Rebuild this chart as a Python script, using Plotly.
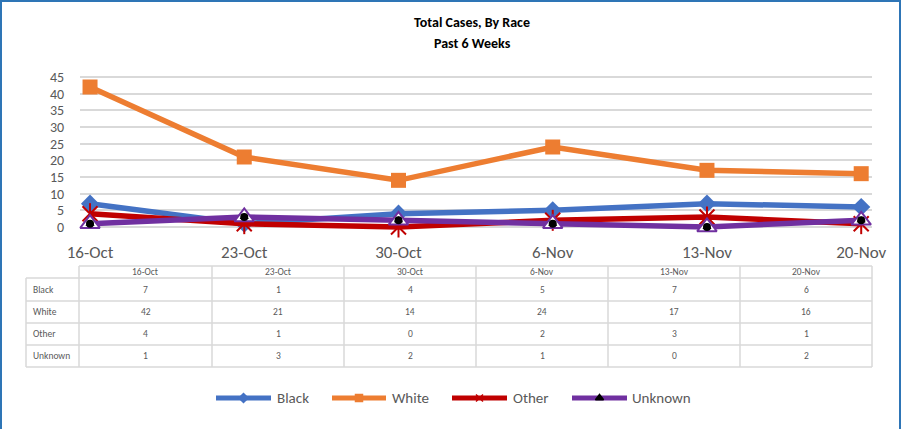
import plotly.graph_objects as go

# ---- data ----
weeks = ["16-Oct", "23-Oct", "30-Oct", "6-Nov", "13-Nov", "20-Nov"]
black = [7, 1, 4, 5, 7, 6]
white = [42, 21, 14, 24, 17, 16]
other = [4, 1, 0, 2, 3, 1]
unknown = [1, 3, 2, 1, 0, 2]
series_names = ["Black", "White", "Other", "Unknown"]
y_ticks = [0, 5, 10, 15, 20, 25, 30, 35, 40, 45]

W, H = 902, 429
FONT = "Carlito, Lato, sans-serif"
GRAY = "#595959"
GRID = "#d9d9d9"
colors = {"Black": "#4472C4", "White": "#ED7D31", "Other": "#C00000", "Unknown": "#7030A0"}
values = {"Black": black, "White": white, "Other": other, "Unknown": unknown}
LW = 5.5


def px(x):
    return x / W


def py(y):
    return 1 - y / H


fig = go.Figure()

# main series
fig.add_trace(go.Scatter(x=weeks, y=black, mode="lines+markers", name="Black",
                         line=dict(color=colors["Black"], width=LW),
                         marker=dict(symbol="diamond", size=14, color=colors["Black"]),
                         cliponaxis=False))
fig.add_trace(go.Scatter(x=weeks, y=white, mode="lines+markers", name="White",
                         line=dict(color=colors["White"], width=LW),
                         marker=dict(symbol="square", size=15, color=colors["White"]),
                         cliponaxis=False))
fig.add_trace(go.Scatter(x=weeks, y=other, mode="lines+markers", name="Other",
                         line=dict(color=colors["Other"], width=LW),
                         marker=dict(symbol="x-thin", size=15, color=colors["Other"],
                                     line=dict(color=colors["Other"], width=2)),
                         cliponaxis=False))
fig.add_trace(go.Scatter(x=weeks, y=other, mode="markers", showlegend=False,
                         marker=dict(symbol="line-ns", size=15, color=colors["Other"],
                                     line=dict(color=colors["Other"], width=2)),
                         cliponaxis=False, hoverinfo="skip"))
fig.add_trace(go.Scatter(x=weeks, y=unknown, mode="lines+markers", name="Unknown",
                         line=dict(color=colors["Unknown"], width=LW),
                         marker=dict(symbol="triangle-up", size=17, color="white",
                                     line=dict(color=colors["Unknown"], width=2)),
                         cliponaxis=False))
# black drop inside the Unknown markers
fig.add_trace(go.Scatter(x=weeks, y=unknown, mode="markers", showlegend=False,
                         marker=dict(symbol="circle", size=8, color="black"),
                         cliponaxis=False, hoverinfo="skip"))
fig.add_trace(go.Scatter(x=weeks, y=unknown, mode="markers", showlegend=False,
                         marker=dict(symbol="triangle-up", size=8, color="black",
                                     line=dict(width=0)),
                         cliponaxis=False, hoverinfo="skip"))

# ---- custom legend on a full-figure pixel axis ----
leg_items = [("Black", 216, 271, 275), ("White", 332, 386, 390),
             ("Other", 452, 507, 511), ("Unknown", 572, 627, 630)]
leg_sym = {"Black": "diamond", "White": "square", "Other": "x-thin", "Unknown": "triangle-up"}
LEG_Y = 398
annotations = []
for name, x0, x1, xt in leg_items:
    fig.add_trace(go.Scatter(x=[x0, x1], y=[LEG_Y, LEG_Y], xaxis="x2", yaxis="y2",
                             mode="lines", line=dict(color=colors[name], width=5),
                             showlegend=False, hoverinfo="skip", cliponaxis=False))
    mcol = "black" if name == "Unknown" else colors[name]
    fig.add_trace(go.Scatter(x=[(x0 + x1) / 2], y=[LEG_Y], xaxis="x2", yaxis="y2",
                             mode="markers",
                             marker=dict(symbol=leg_sym[name], size=7, color=mcol,
                                         line=dict(color=mcol, width=1.5)),
                             showlegend=False, hoverinfo="skip", cliponaxis=False))
    annotations.append(dict(x=px(xt), y=py(LEG_Y), xref="paper", yref="paper",
                            text=name, showarrow=False, xanchor="left", yanchor="middle",
                            font=dict(family=FONT, size=15, color=GRAY)))

# ---- data table ----
col_edges = [79, 212, 344, 476, 608, 740, 872]
row_edges = [266, 278, 301, 323, 345, 367]
label_left = 26
shapes = []
TL = dict(color=GRID, width=1.5)
shapes.append(dict(type="line", xref="paper", yref="paper",
                   x0=px(col_edges[0]), x1=px(col_edges[-1]),
                   y0=py(row_edges[0]), y1=py(row_edges[0]), line=TL))
for r in row_edges[1:]:
    shapes.append(dict(type="line", xref="paper", yref="paper",
                       x0=px(label_left), x1=px(col_edges[-1]),
                       y0=py(r), y1=py(r), line=TL))
shapes.append(dict(type="line", xref="paper", yref="paper",
                   x0=px(label_left), x1=px(label_left),
                   y0=py(row_edges[1]), y1=py(row_edges[-1]), line=TL))
for c in col_edges:
    shapes.append(dict(type="line", xref="paper", yref="paper",
                       x0=px(c), x1=px(c),
                       y0=py(row_edges[0]), y1=py(row_edges[-1]), line=TL))

TFONT = dict(family=FONT, size=9.5, color=GRAY)
for j, wk in enumerate(weeks):
    cx = (col_edges[j] + col_edges[j + 1]) / 2
    annotations.append(dict(x=px(cx), y=py((row_edges[0] + row_edges[1]) / 2),
                            xref="paper", yref="paper", text=wk, showarrow=False,
                            font=TFONT, xanchor="center", yanchor="middle"))
for i, name in enumerate(series_names):
    cy = (row_edges[i + 1] + row_edges[i + 2]) / 2
    annotations.append(dict(x=px(label_left + 5), y=py(cy), xref="paper", yref="paper",
                            text=name, showarrow=False, font=TFONT,
                            xanchor="left", yanchor="middle"))
    for j, v in enumerate(values[name]):
        cx = (col_edges[j] + col_edges[j + 1]) / 2
        annotations.append(dict(x=px(cx), y=py(cy), xref="paper", yref="paper",
                                text=str(v), showarrow=False, font=TFONT,
                                xanchor="center", yanchor="middle"))

# title (two lines)
for txt, ty in (("Total Cases, By Race", 22), ("Past 6 Weeks", 44)):
    annotations.append(dict(x=px(472), y=py(ty), xref="paper", yref="paper",
                            text="<b>" + txt + "</b>", showarrow=False,
                            xanchor="center", yanchor="middle",
                            font=dict(family=FONT, size=14, color="black")))

# outer blue frame (left, top, right)
BL = dict(color="#2E75B6", width=2)
shapes += [
    dict(type="line", xref="paper", yref="paper", x0=px(1), x1=px(1), y0=0, y1=1, line=BL),
    dict(type="line", xref="paper", yref="paper", x0=0, x1=px(901), y0=py(1), y1=py(1), line=BL),
    dict(type="line", xref="paper", yref="paper", x0=px(900), x1=px(900), y0=0, y1=1, line=BL),
]

PLOT_L, PLOT_R, PLOT_T, PLOT_B = 80, 872, 70, 232
fig.update_layout(
    template="none",
    width=W, height=H,
    margin=dict(l=0, r=0, t=0, b=0, pad=0, autoexpand=False),
    paper_bgcolor="white", plot_bgcolor="rgba(0,0,0,0)",
    showlegend=False,
    xaxis=dict(domain=[px(PLOT_L), px(PLOT_R)], type="category",
               range=[-0.065, 5.07], showgrid=False, zeroline=False, showline=False,
               ticks="", tickfont=dict(family=FONT, size=17, color=GRAY),
               ticklabelstandoff=8, anchor="y", automargin=False),
    yaxis=dict(domain=[py(PLOT_B), py(PLOT_T)], range=[-1.5, 47.1],
               tickvals=y_ticks, showgrid=True, gridcolor=GRID, gridwidth=1.5,
               zeroline=False, showline=False,
               ticks="outside", ticklen=12, tickcolor="rgba(0,0,0,0)",
               tickfont=dict(family=FONT, size=14, color=GRAY),
               anchor="x", automargin=False),
    xaxis2=dict(domain=[0, 1], range=[0, W], visible=False, anchor="y2",
                fixedrange=True, automargin=False),
    yaxis2=dict(domain=[0, 1], range=[H, 0], visible=False, anchor="x2",
                fixedrange=True, automargin=False),
    shapes=shapes,
    annotations=annotations,
)

page_fix = (
    "document.documentElement.style.margin='0';"
    "document.documentElement.style.overflow='hidden';"
    "document.body.style.margin='0';"
    "document.body.style.overflow='hidden';"
)
fig.write_html("out.html", config={"displayModeBar": False}, post_script=page_fix)
